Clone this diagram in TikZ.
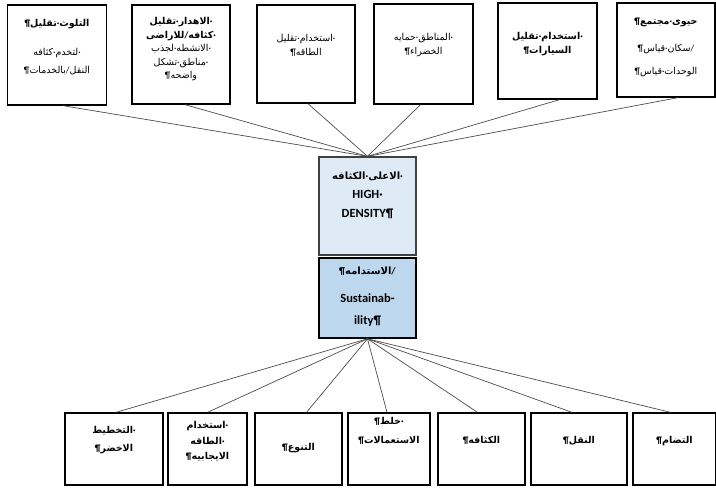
\documentclass[tikz,border=0pt]{standalone}
\usepackage{fontspec}
\setmainfont{Carlito}
\newfontfamily\arabicfont[Script=Arabic]{DejaVu Sans}
\usetikzlibrary{positioning}

\definecolor{densfill}{RGB}{222,235,247}
\definecolor{sustfill}{RGB}{189,215,238}

% Arabic lines, regular and bold; the marks are set in the main font
\newcommand{\ar}[1]{{\arabicfont #1}}
\newcommand{\arb}[1]{{\arabicfont\bfseries #1}}
\newcommand{\dt}{{\rmfamily ·}}
\newcommand{\pil}{{\rmfamily ¶}}
\newcommand{\sls}{{\rmfamily /}}

\begin{document}
\begin{tikzpicture}[x=1pt, y=-1pt,
    box/.style={rectangle, draw=black, line width=1.3pt, inner sep=0pt},
    txt/.style={align=center, inner sep=0pt, font=\fontsize{9.5}{14}\selectfont},
    link/.style={draw=black!70, line width=0.7pt}]

        \useasboundingbox (0,0) rectangle (716,490);

        % Top row of boxes
        \foreach \name/\cx/\cy/\w/\h in {top1/57/55/99/100, top2/181/54.5/98/99, top3/306/54/98/98,
                top4/423.5/54/99/100, top5/547.5/51/99/96, top6/666/50/98/94} {
            \node[box, minimum width=\w pt, minimum height=\h pt] (\name) at (\cx,\cy) {};
        }

        % Middle boxes
        \node[box, draw=black!75, fill=densfill, minimum width=97pt, minimum height=98pt] (dens) at (367.5,206) {};
        \node[box, line width=1.6pt, fill=sustfill, minimum width=97pt, minimum height=80pt] (sust) at (367.5,298) {};

        % Bottom row of boxes
        \foreach \name/\cx/\w in {bot1/114/98, bot2/207.5/79, bot3/298.5/87, bot4/389/82,
                bot5/481.5/87, bot6/579/96, bot7/674.5/83} {
            \node[box, minimum width=\w pt, minimum height=72pt] (\name) at (\cx,449) {};
        }

        % Texts of the top row
        \node[txt, below=15pt of top1.north] (top1txt)
            {\arb{\pil تقليل\dt التلوث}\\[15pt]\ar{كثافه\dt لتخدم\dt}\\[4pt]\ar{\pil بالخدمات\sls النقل}};
        \node[txt, below=13pt of top2.north, font=\fontsize{9.5}{13.5}\selectfont] (top2txt)
            {\arb{تقليل\dt الاهدار\dt}\\\arb{للاراضى\sls كثافه\dt}\\\ar{لجذب\dt الانشطه\dt}\\\ar{تشكل\dt مناطق\dt}\\\ar{\pil واضحه}};
        \node[txt, below=30pt of top3.north] (top3txt) {\ar{تقليل\dt استخدام\dt}\\\ar{\pil الطاقه}};
        \node[txt, below=30pt of top4.north] (top4txt) {\ar{حمايه\dt المناطق\dt}\\\ar{\pil الخضراء}};
        \node[txt, below=30pt of top5.north] (top5txt) {\arb{تقليل\dt استخدام\dt}\\\arb{\pil السيارات}};
        \node[txt, below=15pt of top6.north] (top6txt)
            {\arb{\pil مجتمع\dt حيوى}\\[13pt]\ar{\pil قياس\dt سكان\sls}\\[9pt]\ar{\pil قياس\dt الوحدات}};

        % Texts of the middle boxes
        \node[txt, font=\fontsize{12.5}{19}\selectfont\bfseries, below=15pt of dens.north] (denstxt)
            {\arb{\fontsize{10}{19}\selectfont الكثافه\dt الاعلى\dt}\\HIGH·\\DENSITY¶};
        \node[txt, font=\fontsize{12.5}{22}\selectfont\bfseries, below=9pt of sust.north] (susttxt)
            {\arb{\fontsize{10}{22}\selectfont\pil الاستدامه\sls}\\[6pt]Sustainab-\\ility¶};

        % Texts of the bottom row
        \node[txt, below=14pt of bot1.north, font=\fontsize{9.5}{18}\selectfont] (bot1txt) {\arb{التخطيط\dt}\\\arb{\pil الاخضر}};
        \node[txt, below=9pt of bot2.north, font=\fontsize{9.5}{15.5}\selectfont] (bot2txt) {\arb{استخدام\dt}\\\arb{الطاقه\dt}\\\arb{\pil الايجابيه}};
        \node[txt, below=31pt of bot3.north] (bot3txt) {\arb{\pil التنوع}};
        \node[txt, below=5pt of bot4.north, font=\fontsize{9.5}{19}\selectfont] (bot4txt) {\arb{\pil خلط\dt}\\\arb{\pil الاستعمالات}};
        \node[txt, below=24pt of bot5.north] (bot5txt) {\arb{\pil الكثافه}};
        \node[txt, below=24pt of bot6.north] (bot6txt) {\arb{\pil النقل}};
        \node[txt, below=24pt of bot7.north] (bot7txt) {\arb{\pil التضام}};

        % Connectors into the centre
        \foreach \name/\dx in {top1/6, top2/4, top3/2, top4/-3, top5/12, top6/12} {
            \draw[link] ([xshift=\dx pt]\name.south) -- (dens.north);
        }
        \foreach \name/\dx in {bot1/2, bot2/0, bot3/8, bot4/-2, bot5/-4, bot6/-7, bot7/-4} {
            \draw[link] (sust.south) -- ([xshift=\dx pt]\name.north);
        }

\end{tikzpicture}
\end{document}
